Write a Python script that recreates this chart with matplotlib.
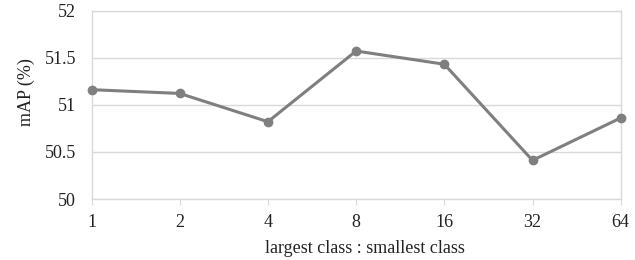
import matplotlib
matplotlib.use("Agg")
import matplotlib.pyplot as plt

categories = ["1", "2", "4", "8", "16", "32", "64"]
values = [51.16, 51.12, 50.82, 51.57, 51.43, 50.41, 50.86]
yticks = [50, 50.5, 51, 51.5, 52]
ytick_labels = ["50", "50.5", "51", "51.5", "52"]

plt.rcParams['font.family'] = ['Liberation Serif', 'DejaVu Serif']

fig = plt.figure(figsize=(6.35, 2.6), dpi=100)
ax = fig.add_axes([91.5/635, 1 - 199/260, (620.7-91.5)/635, (199-10.5)/260])

x = list(range(len(categories)))
ax.plot(x, values, color='#7f7f7f', linewidth=2.2, marker='o', markersize=6, zorder=3, clip_on=False)

ax.set_xlim(0, len(categories) - 1)
ax.set_ylim(50, 52)
ax.set_xticks(x)
ax.set_xticklabels(categories, fontsize=13, color='#222222')
ax.set_yticks(yticks)
ax.set_yticklabels(ytick_labels, fontsize=13, color='#222222')
ax.yaxis.grid(True, color='#d9d9d9', linewidth=1)
ax.set_axisbelow(True)
for s in ax.spines.values():
    s.set_color('#d9d9d9')
    s.set_linewidth(1)
ax.tick_params(axis='x', direction='out', length=4, color='#d9d9d9', pad=7)
ax.tick_params(axis='y', length=0, pad=11)
ax.set_xlabel("largest class : smallest class", fontsize=13, color='#222222', va='center')
ax.xaxis.set_label_coords(0.516, -0.262)
ax.set_ylabel("mAP (%)", fontsize=13, color='#222222', va='center')
ax.yaxis.set_label_coords(-0.124, 0.568)

fig.savefig("out.png", dpi=100)
